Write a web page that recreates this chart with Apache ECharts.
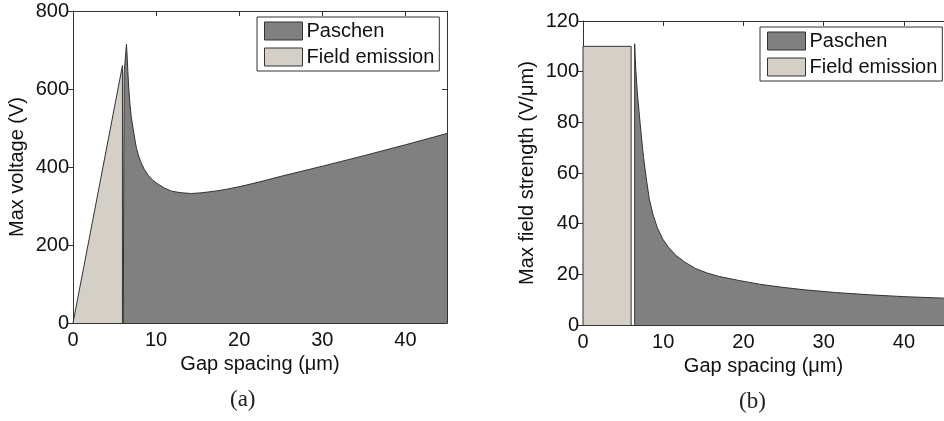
<!DOCTYPE html>
<html><head><meta charset="utf-8">
<script src="https://cdn.jsdelivr.net/npm/echarts@6/dist/echarts.min.js"></script>
<style>html,body{margin:0;padding:0;background:#fff}#c{width:944px;height:421px}</style>
</head><body><div id="c"></div>
<script>
// ---- data ----
const seriesNames = ['Paschen', 'Field emission'];
// Panel (a): max voltage (V) vs gap spacing (µm)
const fieldEmissionA = [[0, 0], [5.95, 660], [5.95, 0]];
const paschenA = [[6.05, 0], [6.15, 640], [6.43, 715], [6.5, 690], [6.6, 645], [6.7, 605], [6.83, 567],
  [7.0, 530], [7.23, 499], [7.45, 470], [7.64, 448], [7.9, 428], [8.24, 409], [8.6, 393], [9.04, 379],
  [9.6, 366], [10.24, 356], [11, 346], [11.86, 338], [13, 334], [14.27, 332], [15.5, 334], [17.07, 338],
  [18.5, 343], [20.1, 350], [22.5, 362], [25, 376], [27.5, 389], [30, 402], [35, 429], [40, 457], [45, 486]];
// Panel (b): max field strength (V/µm) vs gap spacing (µm)
const fieldEmissionB = [[0, 0], [0, 110], [6, 110], [6, 0]];
const paschenB = [[6.44, 0], [6.44, 111], [6.5, 106], [6.6, 100], [6.7, 95], [6.85, 89], [7.05, 82],
  [7.26, 75], [7.55, 66], [7.88, 58], [8.25, 50], [8.69, 44], [9.25, 38.5], [9.92, 34], [10.7, 30.5],
  [11.57, 27.5], [12.7, 24.8], [14.03, 22.3], [15.4, 20.6], [16.9, 19.2], [19.4, 17.6], [22, 16.1],
  [24.8, 14.9], [27.6, 13.9], [31.5, 12.8], [35.8, 11.9], [40, 11.2], [45, 10.6]];
const xRange = [0, 45], xStep = 10;
const yRangeA = [0, 800], yStepA = 200;
const yRangeB = [0, 120], yStepB = 20;

// ---- styles ----
const PASCHEN_FILL = '#808080', FE_FILL = '#d4d0c8', EDGE = '#333';
const FONT = 'Liberation Sans, Arial, sans-serif';
const FS = 20;

const chart = echarts.init(document.getElementById('c'), null, {renderer: 'canvas'});

function xAxes(gi, name) {
  return [
    {gridIndex: gi, type: 'value', position: 'bottom', min: xRange[0], max: xRange[1], interval: xStep,
      name: name, nameLocation: 'middle', nameGap: 23,
      nameTextStyle: {fontFamily: FONT, fontSize: FS, color: '#111'},
      axisLine: {show: true, onZero: false, lineStyle: {color: EDGE, width: 1}},
      axisTick: {show: true, inside: true, length: 5, lineStyle: {color: EDGE}},
      axisLabel: {fontFamily: FONT, fontSize: FS, color: '#111', margin: 7, showMaxLabel: false},
      splitLine: {show: false}},
    {gridIndex: gi, type: 'value', position: 'top', min: xRange[0], max: xRange[1], interval: xStep,
      axisLine: {show: true, onZero: false, lineStyle: {color: EDGE, width: 1}},
      axisTick: {show: true, inside: true, length: 5, lineStyle: {color: EDGE}},
      axisLabel: {show: false}, splitLine: {show: false}}
  ];
}
function yAxes(gi, name, rng, step, rightTicks) {
  return [
    {gridIndex: gi, type: 'value', position: 'left', min: rng[0], max: rng[1], interval: step,
      name: name, nameLocation: 'middle', nameGap: 46,
      nameTextStyle: {fontFamily: FONT, fontSize: FS, color: '#111'},
      axisLine: {show: true, onZero: false, lineStyle: {color: EDGE, width: 1}},
      axisTick: {show: true, inside: false, length: 5, lineStyle: {color: EDGE}},
      axisLabel: {fontFamily: FONT, fontSize: FS, color: '#111', margin: 4},
      splitLine: {show: false}},
    {gridIndex: gi, type: 'value', position: 'right', min: rng[0], max: rng[1], interval: step,
      axisLine: {show: true, onZero: false, lineStyle: {color: EDGE, width: 1}},
      axisTick: {show: rightTicks, inside: true, length: 5, lineStyle: {color: EDGE}},
      axisLabel: {show: false}, splitLine: {show: false}}
  ];
}
function area(name, data, fill, xi, yi) {
  return {name: name, type: 'line', xAxisIndex: xi, yAxisIndex: yi, data: data,
    showSymbol: false, symbol: 'none', silent: true, animation: false, smooth: false,
    itemStyle: {color: fill},
    lineStyle: {color: EDGE, width: 1},
    areaStyle: {color: fill, opacity: 1, origin: 'start'}};
}
function legend(left, top) {
  return {left: left, top: top, orient: 'vertical', itemWidth: 38, itemHeight: 18, itemGap: 6,
    padding: [4, 5, 4, 7], borderColor: EDGE, borderWidth: 1, backgroundColor: '#fff',
    selectedMode: false,
    textStyle: {fontFamily: FONT, fontSize: FS, color: '#111', padding: [0, 0, 0, -1]},
    data: [
      {name: seriesNames[0], icon: 'rect', itemStyle: {color: PASCHEN_FILL, borderColor: EDGE, borderWidth: 1}},
      {name: seriesNames[1], icon: 'rect', itemStyle: {color: FE_FILL, borderColor: EDGE, borderWidth: 1}}
    ]};
}

const option = {
  backgroundColor: '#fff',
  animation: false,
  grid: [
    {left: 73, top: 11, width: 374, height: 312},
    {left: 583, top: 21, width: 365, height: 304}
  ],
  xAxis: [].concat(xAxes(0, 'Gap spacing (μm)'), xAxes(1, 'Gap spacing (μm)')),
  yAxis: [].concat(yAxes(0, 'Max voltage (V)', yRangeA, yStepA, true), yAxes(1, 'Max field strength (V/μm)', yRangeB, yStepB, false)),
  legend: [legend(257, 17), legend(760, 27)],
  series: [
    area(seriesNames[1], fieldEmissionA, FE_FILL, 0, 0),
    area(seriesNames[0], paschenA, PASCHEN_FILL, 0, 0),
    area(seriesNames[1], fieldEmissionB, FE_FILL, 2, 2),
    area(seriesNames[0], paschenB, PASCHEN_FILL, 2, 2)
  ],
  graphic: [
    {type: 'text', left: 230, top: 388, style: {text: '(a)', font: '23px "Liberation Serif", "Times New Roman", serif', fill: '#222'}},
    {type: 'text', left: 739, top: 390, style: {text: '(b)', font: '23px "Liberation Serif", "Times New Roman", serif', fill: '#222'}}
  ]
};
chart.setOption(option);
</script>
</body></html>
